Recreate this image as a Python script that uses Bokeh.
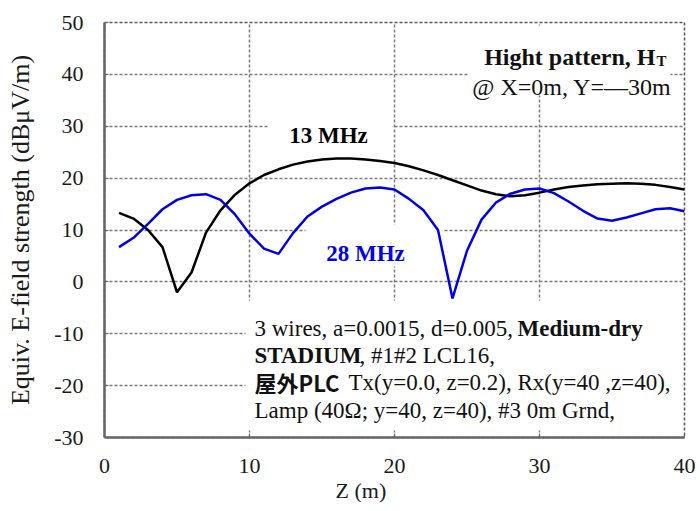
from bokeh.plotting import figure
from bokeh.models import Label, BoxAnnotation, FixedTicker, Range1d, Title
from bokeh.embed import file_html
from bokeh.resources import INLINE

# ---- data ----
z = list(range(1, 41))
e13 = [13.3, 12.2, 10.0, 6.7, -2.0, 1.8, 9.5, 13.8, 16.8, 19.0,
       20.6, 21.7, 22.6, 23.2, 23.6, 23.8, 23.8, 23.6, 23.3, 22.9,
       22.3, 21.5, 20.6, 19.6, 18.6, 17.6, 16.9, 16.5, 16.7, 17.2,
       17.8, 18.3, 18.6, 18.8, 18.9, 19.0, 18.9, 18.7, 18.3, 17.8]
e28 = [6.7, 8.5, 11.2, 14.0, 15.8, 16.7, 16.9, 15.8, 13.0, 9.3,
       6.4, 5.4, 9.4, 12.6, 14.5, 16.0, 17.2, 18.0, 18.2, 17.8,
       16.0, 13.8, 10.0, -3.2, 6.0, 12.0, 15.3, 17.0, 17.8, 18.0,
       17.1, 15.5, 13.7, 12.2, 11.8, 12.4, 13.2, 14.0, 14.2, 13.6]
series_names = ["13 MHz", "28 MHz"]
x_ticks = [0, 10, 20, 30, 40]
y_ticks = [-30, -20, -10, 0, 10, 20, 30, 40, 50]
x_title = "Z (m)"
y_title = "Equiv. E-field strength (dBμV/m)"

SERIF = "Liberation Serif"
BLUE = "#0000E6"

p = figure(frame_width=580, frame_height=415, output_backend="svg", toolbar_location=None,
           x_range=Range1d(0, 40), y_range=Range1d(-30, 50),
           min_border_left=104, min_border_right=16, min_border_top=22, min_border_bottom=10)
p.background_fill_color = "white"
p.border_fill_color = "white"
p.outline_line_color = "#555555"
p.outline_line_dash = "3 2"
p.outline_line_width = 1.5

for ax, ticks in ((p.xaxis, x_ticks), (p.yaxis, y_ticks)):
    ax.ticker = FixedTicker(ticks=ticks)
    ax.major_label_overrides = {t: str(t) for t in ticks}
    ax.axis_line_color = "#666666"
    ax.axis_line_width = 2.5
    ax.major_tick_in = 4
    ax.major_tick_out = 0
    ax.major_tick_line_color = "#666666"
    ax.minor_tick_line_color = None
    ax.major_label_text_font = SERIF
    ax.major_label_text_font_size = "22px"
    ax.major_label_text_color = "#1a1a1a"
    ax.axis_label_text_font = SERIF
    ax.axis_label_text_font_style = "normal"
    ax.axis_label_text_color = "#1a1a1a"

p.yaxis.axis_label = y_title
p.yaxis.axis_label_text_font_size = "26px"
p.xaxis.major_label_standoff = 21
p.yaxis.major_label_standoff = 21
p.yaxis.axis_label_standoff = 16

# x axis title, placed left of centre as in the reference
p.add_layout(Title(text=x_title, align="left", offset=231, standoff=0,
                   text_font=SERIF, text_font_size="22px", text_font_style="normal",
                   text_color="#1a1a1a"), "below")

for g, ticks in ((p.xgrid, x_ticks), (p.ygrid, y_ticks)):
    g.ticker = FixedTicker(ticks=ticks)
    g.grid_line_color = "#7a7a7a"
    g.grid_line_dash = "3 2"
    g.grid_line_width = 1.5

# pixel (reference screenshot) -> data helpers for annotation placement
def px(xp):
    return (xp - 104) / 14.5

def py(yp):
    return (281.5 - yp) / 5.1875

# white boxes masking the grid behind the texts
for l, r, t, b in ((468, 670, 25, 95), (268, 392, 110, 146),
                   (305, 442, 224, 266), (245, 682, 300, 430)):
    p.add_layout(BoxAnnotation(left=px(l), right=px(r), top=py(t), bottom=py(b),
                               fill_color="white", fill_alpha=1.0, line_color=None,
                               level="underlay"))

p.line(z, e13, line_color="black", line_width=2.5)
p.line(z, e28, line_color=BLUE, line_width=2.5)

def lab(xp, yp, text, size="23px", style="normal", color="#111111", align="left",
        font=SERIF):
    p.add_layout(Label(x=px(xp), y=py(yp), text=text, text_font=font,
                       text_font_size=size, text_font_style=style, text_color=color,
                       text_align=align, text_baseline="alphabetic"))

# series labels
lab(328, 135, series_names[0], size="23px", style="bold", color="black", align="center")
lab(365, 253, series_names[1], size="23px", style="bold", color=BLUE, align="center")

# top-right title
lab(655, 57, "Hight pattern, H", size="24px", style="bold", align="right")
lab(656, 61, "T", size="15px", style="bold", align="left")
lab(671, 87, "@ X=0m, Y=\u201430m", size="24px", align="right")

# bottom annotation block
lab(254, 328, "3 wires, a=0.0015, d=0.005,")
lab(517, 328, "Medium-dry", style="bold")
lab(254, 355, "STADIUM", style="bold")
lab(359, 355, ", #1#2 LCL16,")
lab(254, 382, "屋外PLC", size="22px", style="bold", font="Noto Sans CJK JP")
lab(348, 382, "Tx(y=0.0, z=0.2), Rx(y=40 ,z=40),")
lab(254, 410, "Lamp (40Ω; y=40,  z=40), #3 0m Grnd,")

open("out.html", "w").write(file_html(p, INLINE))
